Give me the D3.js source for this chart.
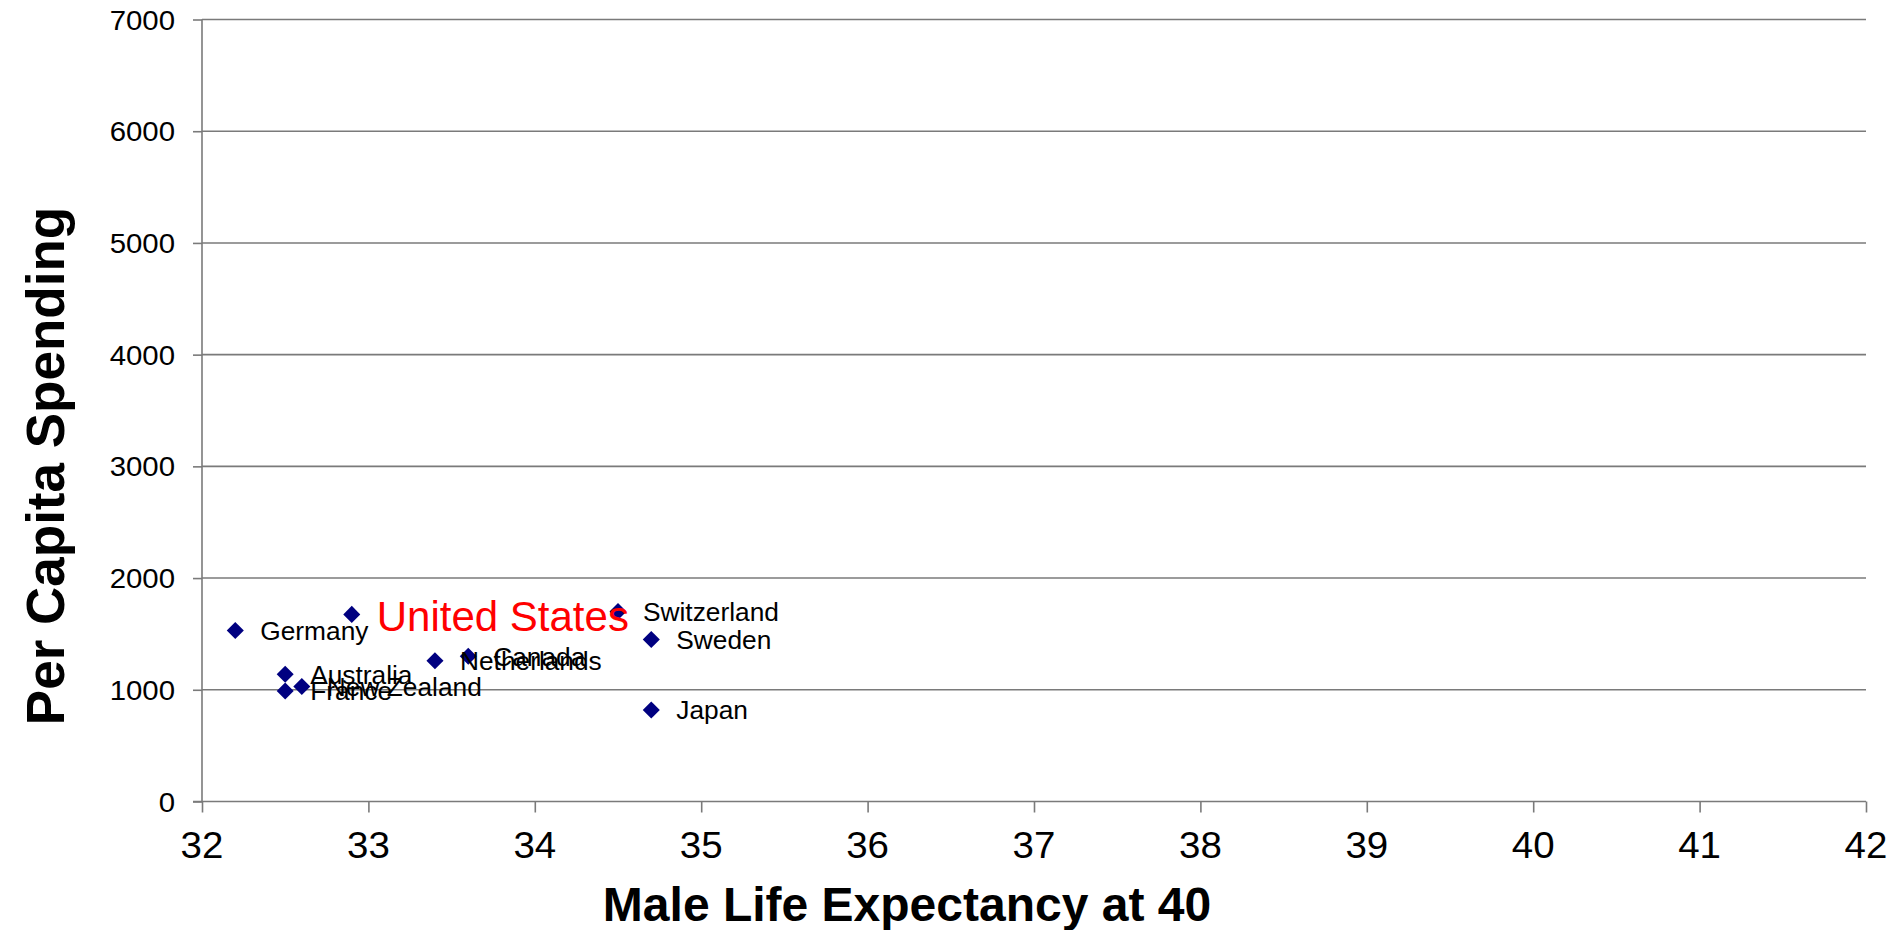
<!DOCTYPE html>
<html>
<head>
<meta charset="utf-8">
<script src="https://cdn.jsdelivr.net/npm/d3@7"></script>
<style>
  html, body { margin: 0; padding: 0; background: #ffffff; }
  svg { display: block; font-family: "Liberation Sans", Arial, Helvetica, sans-serif; }
</style>
</head>
<body>
<svg id="chart" width="1895" height="930"></svg>
<script>
// Countries and their values
const countries = ["Germany", "United States", "Australia", "France", "New Zealand",
                   "Netherlands", "Canada", "Switzerland", "Sweden", "Japan"];
const lifeExpectancy = [32.2, 32.9, 32.5, 32.5, 32.6, 33.4, 33.6, 34.5, 34.7, 34.7];
const perCapitaSpending = [1530, 1675, 1140, 990, 1030, 1260, 1300, 1700, 1450, 820];

const xTicks = [32, 33, 34, 35, 36, 37, 38, 39, 40, 41, 42];
const yTicks = [0, 1000, 2000, 3000, 4000, 5000, 6000, 7000];

const xTitle = "Male Life Expectancy at 40";
const yTitle = "Per Capita Spending";
const highlight = "United States";

const svg = d3.select("#chart");

const plot = { left: 202, right: 1866, top: 19.5, bottom: 801.5 };

const x = d3.scaleLinear().domain([32, 42]).range([plot.left, plot.right]);
const y = d3.scaleLinear().domain([0, 7000]).range([plot.bottom, plot.top]);

const lineColor = "#7a7a7a";
const lineWidth = 1.6;

// Horizontal gridlines
svg.append("g")
  .selectAll("line")
  .data(yTicks.filter(v => v > 0))
  .join("line")
  .attr("x1", plot.left)
  .attr("x2", plot.right)
  .attr("y1", d => y(d))
  .attr("y2", d => y(d))
  .attr("stroke", lineColor)
  .attr("stroke-width", lineWidth);

// Y axis
const yAxis = svg.append("g")
  .attr("transform", `translate(${plot.left},0)`)
  .call(d3.axisLeft(y).tickValues(yTicks).tickSize(9).tickPadding(0).tickFormat(""));
yAxis.select(".domain").attr("stroke", lineColor).attr("stroke-width", lineWidth).attr("d", `M0,${plot.top}V${plot.bottom}`);
yAxis.selectAll(".tick line").attr("stroke", lineColor).attr("stroke-width", lineWidth);

// Y tick labels
svg.append("g")
  .selectAll("text")
  .data(yTicks)
  .join("text")
  .attr("transform", d => `translate(${plot.left - 27},${y(d) + 10}) scale(1.05,1)`)
  .attr("text-anchor", "end")
  .attr("font-size", 28)
  .attr("fill", "#000")
  .text(d => d);

// X axis
const xAxis = svg.append("g")
  .attr("transform", `translate(0,${plot.bottom})`)
  .call(d3.axisBottom(x).tickValues(xTicks).tickSize(11).tickFormat(""));
xAxis.select(".domain").attr("stroke", lineColor).attr("stroke-width", lineWidth).attr("d", `M${plot.left - 9},0H${plot.right}`);
xAxis.selectAll(".tick line").attr("stroke", lineColor).attr("stroke-width", lineWidth);

// X tick labels
svg.append("g")
  .selectAll("text")
  .data(xTicks)
  .join("text")
  .attr("transform", d => `translate(${x(d)},${plot.bottom + 56.5}) scale(1.04,1)`)
  .attr("text-anchor", "middle")
  .attr("font-size", 37)
  .attr("fill", "#000")
  .text(d => d);

// Axis titles
svg.append("text")
  .attr("transform", `translate(907,921)`)
  .attr("text-anchor", "middle")
  .attr("font-size", 48)
  .attr("font-weight", "bold")
  .attr("fill", "#000")
  .text(xTitle);

svg.append("text")
  .attr("transform", `translate(64,466) rotate(-90)`)
  .attr("text-anchor", "middle")
  .attr("font-size", 53)
  .attr("font-weight", "bold")
  .attr("fill", "#000")
  .text(yTitle);

// Points
const data = countries.map((c, i) => ({ name: c, x: lifeExpectancy[i], y: perCapitaSpending[i] }));

const diamond = d3.symbol().type(d3.symbolSquare).size(145);
svg.append("g")
  .selectAll("path")
  .data(data)
  .join("path")
  .attr("d", diamond)
  .attr("transform", d => `translate(${x(d.x)},${y(d.y)}) rotate(45)`)
  .attr("fill", "#000080");

// Data labels, to the right of each point
svg.append("g")
  .selectAll("text")
  .data(data)
  .join("text")
  .attr("x", d => x(d.x) + 25)
  .attr("y", d => y(d.y))
  .attr("dy", d => d.name === highlight ? 17 : 9.5)
  .attr("font-size", d => d.name === highlight ? 42 : 26.3)
  .attr("fill", d => d.name === highlight ? "#ff0000" : "#000")
  .text(d => d.name);
</script>
</body>
</html>
